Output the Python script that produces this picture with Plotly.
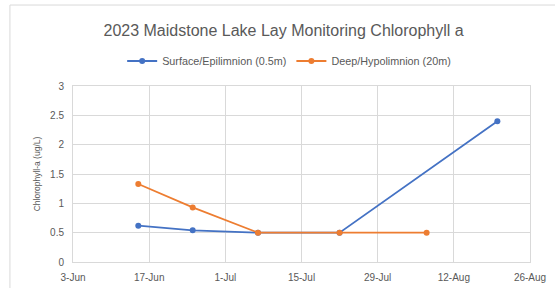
import plotly.graph_objects as go

surface_dates = ["2023-06-15", "2023-06-25", "2023-07-07", "2023-07-22", "2023-08-20"]
surface_vals = [0.62, 0.54, 0.5, 0.5, 2.4]
deep_dates = ["2023-06-15", "2023-06-25", "2023-07-07", "2023-07-22", "2023-08-07"]
deep_vals = [1.33, 0.93, 0.5, 0.5, 0.5]
tick_dates = ["2023-06-03", "2023-06-17", "2023-07-01", "2023-07-15", "2023-07-29", "2023-08-12", "2023-08-26"]
tick_labels = ["3-Jun", "17-Jun", "1-Jul", "15-Jul", "29-Jul", "12-Aug", "26-Aug"]
y_ticks = [0, 0.5, 1, 1.5, 2, 2.5, 3]
y_labels = ["0", "0.5", "1", "1.5", "2", "2.5", "3"]

BLUE = "#4472C4"
ORANGE = "#ED7D31"
GREY = "#595959"
FONT = "Liberation Sans"

fig = go.Figure()
fig.add_trace(go.Scatter(x=surface_dates, y=surface_vals, mode="lines+markers",
                         name="Surface/Epilimnion (0.5m)",
                         line=dict(color=BLUE, width=1.8), marker=dict(color=BLUE, size=6)))
fig.add_trace(go.Scatter(x=deep_dates, y=deep_vals, mode="lines+markers",
                         name="Deep/Hypolimnion (20m)",
                         line=dict(color=ORANGE, width=1.8), marker=dict(color=ORANGE, size=6)))

fig.update_layout(
    width=555, height=288,
    margin=dict(l=73, r=25, t=86, b=26, autoexpand=False),
    paper_bgcolor="white", plot_bgcolor="white",
    font=dict(family=FONT, color=GREY, size=10),
    title=dict(text="2023 Maidstone Lake Lay Monitoring Chlorophyll a",
               x=0.511, xanchor="center", y=0.896, yanchor="middle",
               font=dict(size=16, color=GREY, family=FONT)),
    legend=dict(orientation="h", x=0.473, xanchor="center", y=1.142, yanchor="middle",
                font=dict(size=10.8, color=GREY), itemwidth=30),
    showlegend=True,
)
fig.update_xaxes(type="date", range=["2023-06-03", "2023-08-26"],
                 tickvals=tick_dates, ticktext=tick_labels, automargin=False,
                 showgrid=True, gridcolor="#D9D9D9", gridwidth=1,
                 showline=True, linecolor="#D9D9D9", mirror=True,
                 ticks="outside", ticklen=6, tickcolor="rgba(0,0,0,0)",
                 tickfont=dict(size=10, color=GREY))
fig.update_yaxes(range=[0, 3], tickvals=y_ticks, ticktext=y_labels, automargin=False,
                 showgrid=True, gridcolor="#D9D9D9", gridwidth=1,
                 showline=True, linecolor="#D9D9D9", mirror=True,
                 ticks="outside", ticklen=6, tickcolor="rgba(0,0,0,0)",
                 zeroline=False, tickfont=dict(size=10, color=GREY),
                 title=dict(text="Chlorophyll-a (ug/L)", font=dict(size=8.5, color=GREY), standoff=8))

fig.add_shape(type="rect", xref="paper", yref="paper",
              x0=-0.138, x1=1.2, y0=-0.3, y1=1.46,
              line=dict(color="#D9D9D9", width=1), fillcolor="rgba(0,0,0,0)", layer="below")

fig.write_html("out.html", config={"displayModeBar": False},
               post_script="document.body.style.margin='0';")
